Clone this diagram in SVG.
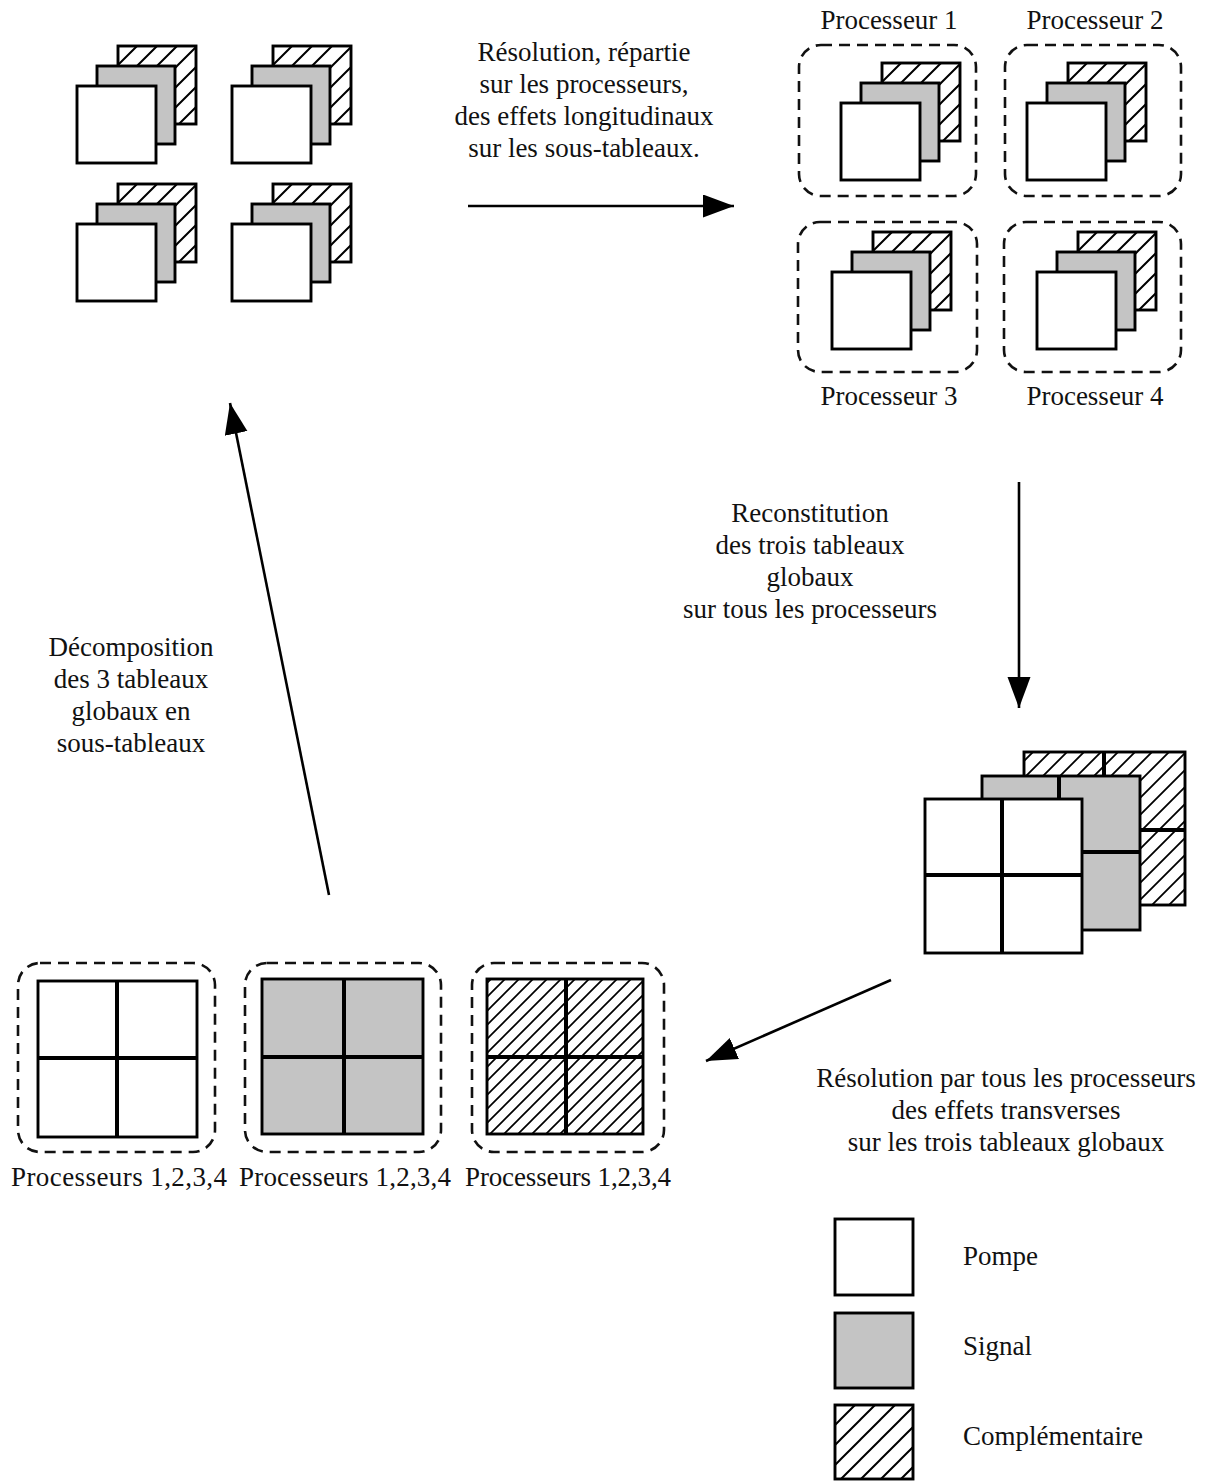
<svg xmlns="http://www.w3.org/2000/svg" xmlns:xlink="http://www.w3.org/1999/xlink" width="1208" height="1481" viewBox="0 0 1208 1481">
<style>
text{font-family:"Liberation Serif","Times New Roman",serif;font-size:27px;fill:#111;text-anchor:middle}
.lab{text-anchor:start}
.sq{stroke:#000;stroke-width:2.9}
.w{fill:#fff}
.g{fill:#c4c4c4}
.div{stroke:#000;stroke-width:4;fill:none}
.dash{fill:none;stroke:#111;stroke-width:2.6;stroke-dasharray:11 7}
.conn{stroke:#000;stroke-width:2.6;fill:none}
</style>
<defs>
<pattern id="h20" patternUnits="userSpaceOnUse" width="20" height="20">
<rect width="20" height="20" fill="#fff"/>
<path d="M0,20 L20,0 M-2,2 L2,-2 M18,22 L22,18" stroke="#000" stroke-width="2"/>
</pattern>
<pattern id="h17" patternUnits="userSpaceOnUse" width="17" height="17">
<rect width="17" height="17" fill="#fff"/>
<path d="M0,17 L17,0 M-2,2 L2,-2 M15,19 L19,15" stroke="#000" stroke-width="1.8"/>
</pattern>
<pattern id="h14" patternUnits="userSpaceOnUse" width="14" height="14">
<rect width="14" height="14" fill="#fff"/>
<path d="M0,14 L14,0 M-2,2 L2,-2 M12,16 L16,12" stroke="#000" stroke-width="1.7"/>
</pattern>
<g id="stack">
<rect class="sq" x="41" y="0" width="78" height="78" fill="url(#h20)"/>
<rect class="sq g" x="20" y="20" width="78" height="78"/>
<rect class="sq w" x="0" y="40" width="79" height="77"/>
</g>
<marker id="ah" markerUnits="userSpaceOnUse" markerWidth="32" markerHeight="24" refX="31" refY="11.5" orient="auto">
<path d="M0,0 L31,11.5 L0,23 Z" fill="#000"/>
</marker>
</defs>
<rect width="1208" height="1481" fill="#fff"/>

<g id="subarrays">
<use xlink:href="#stack" x="77" y="46"/>
<use xlink:href="#stack" x="232" y="46"/>
<use xlink:href="#stack" x="77" y="184"/>
<use xlink:href="#stack" x="232" y="184"/>
</g>

<g id="processeur1">
<rect class="dash" x="799" y="45" width="177" height="151" rx="22"/>
<use xlink:href="#stack" x="841" y="63"/>
<text x="889" y="29">Processeur 1</text>
</g>
<g id="processeur2">
<rect class="dash" x="1005" y="45" width="176" height="151" rx="22"/>
<use xlink:href="#stack" x="1027" y="63"/>
<text x="1095" y="29">Processeur 2</text>
</g>
<g id="processeur3">
<rect class="dash" x="798" y="222" width="179" height="150" rx="22"/>
<use xlink:href="#stack" x="832" y="232"/>
<text x="889" y="405">Processeur 3</text>
</g>
<g id="processeur4">
<rect class="dash" x="1004" y="222" width="177" height="150" rx="22"/>
<use xlink:href="#stack" x="1037" y="232"/>
<text x="1095" y="405">Processeur 4</text>
</g>

<g id="global-stack">
<rect class="sq" x="1024" y="752" width="161" height="153" fill="url(#h17)"/>
<path class="div" d="M1104,752 V905 M1024,830 H1185"/>
<rect class="sq g" x="982" y="776" width="158" height="154"/>
<path class="div" d="M1059,776 V930 M982,852 H1140"/>
<rect class="sq w" x="925" y="799" width="157" height="154"/>
<path class="div" d="M1002,799 V953 M925,875 H1082"/>
</g>

<g id="global-pompe">
<rect class="dash" x="18" y="963" width="197" height="189" rx="22"/>
<rect class="sq w" x="38" y="981" width="159" height="156"/>
<path class="div" d="M117,981 V1137 M38,1058 H197"/>
<text x="119" y="1186" textLength="216" lengthAdjust="spacing">Processeurs 1,2,3,4</text>
</g>
<g id="global-signal">
<rect class="dash" x="245" y="963" width="196" height="189" rx="22"/>
<rect class="sq g" x="262" y="979" width="161" height="155"/>
<path class="div" d="M344,979 V1134 M262,1057 H423"/>
<text x="345" y="1186" textLength="212" lengthAdjust="spacing">Processeurs 1,2,3,4</text>
</g>
<g id="global-complementaire">
<rect class="dash" x="472" y="963" width="192" height="189" rx="22"/>
<rect class="sq" x="487" y="979" width="156" height="155" fill="url(#h14)"/>
<path class="div" d="M566,979 V1134 M487,1057 H643"/>
<text x="568" y="1186" textLength="206" lengthAdjust="spacing">Processeurs 1,2,3,4</text>
</g>

<g id="connectors">
<line class="conn" x1="468" y1="206" x2="734" y2="206" marker-end="url(#ah)"/>
<line class="conn" x1="1019" y1="482" x2="1019" y2="708" marker-end="url(#ah)"/>
<line class="conn" x1="891" y1="980" x2="706" y2="1061" marker-end="url(#ah)"/>
<line class="conn" x1="329" y1="895" x2="230" y2="403" marker-end="url(#ah)"/>
</g>

<g id="labels">
<text x="584" y="61">Résolution, répartie</text>
<text x="584" y="93">sur les processeurs,</text>
<text x="584" y="125">des effets longitudinaux</text>
<text x="584" y="157">sur les sous-tableaux.</text>
<text x="810" y="522">Reconstitution</text>
<text x="810" y="554">des trois tableaux</text>
<text x="810" y="586">globaux</text>
<text x="810" y="618">sur tous les processeurs</text>
<text x="131" y="656">Décomposition</text>
<text x="131" y="688">des 3 tableaux</text>
<text x="131" y="720">globaux en</text>
<text x="131" y="752">sous-tableaux</text>
<text x="1006" y="1087">Résolution par tous les processeurs</text>
<text x="1006" y="1119">des effets transverses</text>
<text x="1006" y="1151">sur les trois tableaux globaux</text>
</g>

<g id="legend">
<rect class="sq w" x="835" y="1219" width="78" height="76"/>
<text class="lab" x="963" y="1265">Pompe</text>
<rect class="sq g" x="835" y="1313" width="78" height="75"/>
<text class="lab" x="963" y="1355">Signal</text>
<rect class="sq" x="835" y="1405" width="78" height="74" fill="url(#h20)"/>
<text class="lab" x="963" y="1445">Complémentaire</text>
</g>
</svg>
